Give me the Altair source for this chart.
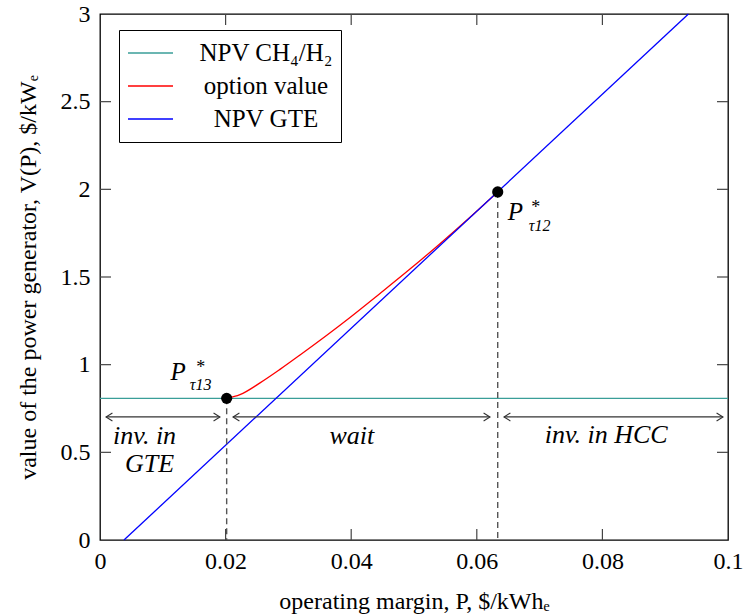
import altair as alt
import pandas as pd

FONT = "Liberation Serif"

# ---------------- data ----------------
x_ticks = [0, 0.02, 0.04, 0.06, 0.08, 0.1]
y_ticks = [0, 0.5, 1, 1.5, 2, 2.5, 3]

series_names = ["NPV CH₄/H₂", "option value", "NPV GTE"]
series_colors = ["#3a9e98", "#ff0000", "#0000ff"]

ch4_x = [0.0, 0.1]
ch4_y = [0.808, 0.808]

gte_x = [0.00382, 0.0937]
gte_y = [0.0, 3.0]

opt_x = [0.02017, 0.02229, 0.02548, 0.02866, 0.03185, 0.03981, 0.04459,
         0.04936, 0.05414, 0.05892, 0.06333]
opt_y = [0.808, 0.829, 0.896, 0.973, 1.055, 1.269, 1.406,
         1.545, 1.690, 1.841, 1.985]

thr_x = [0.02017, 0.06333]
thr_y = [0.808, 1.985]
thr_base = [0.0, 0.0]

arrow_y = 0.702
arrow_x1 = [0.00096, 0.02118, 0.06433]
arrow_x2 = [0.0191, 0.0621, 0.0992]

region_text = ["inv. in", "GTE", "wait", "inv. in HCC"]
region_x = [0.0071, 0.0079, 0.0401, 0.0806]
region_y = [0.548, 0.39, 0.548, 0.552]

W, H = 628, 526
TICK = 11

# ---------------- tables ----------------
lines_df = pd.concat([
    pd.DataFrame({"x": ch4_x, "y": ch4_y, "series": series_names[0]}),
    pd.DataFrame({"x": opt_x, "y": opt_y, "series": series_names[1]}),
    pd.DataFrame({"x": gte_x, "y": gte_y, "series": series_names[2]}),
], ignore_index=True)

thr_df = pd.DataFrame({"x": thr_x, "y": thr_y, "y0": thr_base})
arrows_df = pd.DataFrame({"x": arrow_x1, "x2": arrow_x2, "y": [arrow_y] * 3})
heads_left = pd.DataFrame({"x": arrow_x1, "y": [arrow_y] * 3})
heads_right = pd.DataFrame({"x": arrow_x2, "y": [arrow_y] * 3})
region_df = pd.DataFrame({"x": region_x, "y": region_y, "t": region_text})
p13_df = pd.DataFrame({"x": [thr_x[0]], "y": [thr_y[0]]})
p12_df = pd.DataFrame({"x": [thr_x[1]], "y": [thr_y[1]]})
xt_df = pd.DataFrame({"x": x_ticks[1:-1]})
yt_df = pd.DataFrame({"y": y_ticks[1:-1]})

xs = alt.Scale(domain=[0, 0.1], nice=False, zero=False)
ys = alt.Scale(domain=[0, 3], nice=False, zero=False)

X = alt.X("x:Q", scale=xs, axis=alt.Axis(
    values=x_ticks, format=".2~f", ticks=False, domain=False, grid=False,
    labelFlush=False, labelOverlap=False, labelFont=FONT, labelFontSize=24,
    labelPadding=9, title="operating margin, P, $/kWhₑ", titlePadding=16))
Y = alt.Y("y:Q", scale=ys, axis=alt.Axis(
    values=y_ticks, format=".1~f", ticks=False, domain=False, grid=False,
    labelFlush=False, labelOverlap=False, labelFont=FONT, labelFontSize=24,
    labelPadding=10, title="value of the power generator, V(P), $/kWₑ",
    titlePadding=20))

lines = alt.Chart(lines_df).mark_line(strokeWidth=1.3, interpolate="monotone").encode(
    x=X, y=Y,
    color=alt.Color("series:N",
                    scale=alt.Scale(domain=series_names, range=series_colors),
                    legend=alt.Legend(
                        title=None, orient="none", legendX=19, legendY=16,
                        symbolType="stroke", symbolSize=2025, symbolStrokeWidth=1.5,
                        labelFont=FONT, labelFontSize=25, labelColor="black",
                        labelAlign="center", labelOffset=92, labelLimit=400,
                        clipHeight=30, rowPadding=3, padding=8,
                        strokeColor="black", fillColor="white")),
    order=alt.Order("x:Q"),
)

# inward tick marks on all four sides, placed by the scales
tick_kw = dict(color="#444444", strokeWidth=1.2, opacity=1)
t_bottom = alt.Chart(xt_df).mark_rule(**tick_kw).encode(
    x=alt.X("x:Q", scale=xs), y=alt.value(H), y2=alt.value(H - TICK))
t_top = alt.Chart(xt_df).mark_rule(**tick_kw).encode(
    x=alt.X("x:Q", scale=xs), y=alt.value(0), y2=alt.value(TICK))
t_left = alt.Chart(yt_df).mark_rule(**tick_kw).encode(
    y=alt.Y("y:Q", scale=ys), x=alt.value(0), x2=alt.value(TICK))
t_right = alt.Chart(yt_df).mark_rule(**tick_kw).encode(
    y=alt.Y("y:Q", scale=ys), x=alt.value(W), x2=alt.value(W - TICK))

dashes = alt.Chart(thr_df).mark_rule(color="#555555", strokeDash=[6, 4], strokeWidth=1.4).encode(
    x=X, y=Y, y2="y0:Q")

dots = alt.Chart(thr_df).mark_circle(size=125, color="black", opacity=1).encode(x=X, y=Y)

arrows = alt.Chart(arrows_df).mark_rule(color="#333333", strokeWidth=1.1).encode(
    x=X, x2="x2:Q", y=Y)

left_heads = alt.Chart(heads_left).mark_point(
    shape="M1.6,-1L0,0L1.6,1", filled=False, stroke="#333333", strokeWidth=1.1,
    size=64, opacity=1).encode(x=X, y=Y)
right_heads = alt.Chart(heads_right).mark_point(
    shape="M-1.6,-1L0,0L-1.6,1", filled=False, stroke="#333333", strokeWidth=1.1,
    size=64, opacity=1).encode(x=X, y=Y)

regions = alt.Chart(region_df).mark_text(
    font=FONT, fontSize=26, fontStyle="italic", align="center",
    baseline="alphabetic", color="black").encode(x=X, y=Y, text="t:N")

def star_label(df, sub, p_dx, p_dy, p_align, s_dx, s_dy, b_dx, b_dy):
    p = alt.Chart(df).mark_text(text="P", font=FONT, fontSize=25, fontStyle="italic",
                                align=p_align, baseline="alphabetic", dx=p_dx, dy=p_dy,
                                color="black").encode(x=X, y=Y)
    s = alt.Chart(df).mark_text(text="*", font=FONT, fontSize=18, align="center",
                                baseline="middle", dx=s_dx, dy=s_dy,
                                color="black").encode(x=X, y=Y)
    b = alt.Chart(df).mark_text(text=sub, font=FONT, fontSize=16, fontStyle="italic",
                                align="center", baseline="middle", dx=b_dx, dy=b_dy,
                                color="black").encode(x=X, y=Y)
    return [p, s, b]

lab13 = star_label(p13_df, "τ13", -41, -18, "right", -26, -30, -26, -13)
lab12 = star_label(p12_df, "τ12", 10, 28, "left", 38, 16, 42, 34)

chart = alt.layer(
    lines, dashes, arrows, left_heads, right_heads, regions, *lab13, *lab12, dots,
    t_bottom, t_top, t_left, t_right,
).properties(
    width=W, height=H,
    autosize=alt.AutoSizeParams(type="none"),
    padding={"left": 100, "top": 14, "right": 744 - 100 - W, "bottom": 614 - 14 - H},
    background="white",
).configure_view(
    stroke="black", strokeWidth=1.3
).configure_axis(
    labelFont=FONT, labelFontSize=24, labelColor="black",
    titleFont=FONT, titleFontSize=24, titleFontWeight="normal", titleColor="black",
)

chart.save("out.html", embed_options={"renderer": "svg", "actions": False})
